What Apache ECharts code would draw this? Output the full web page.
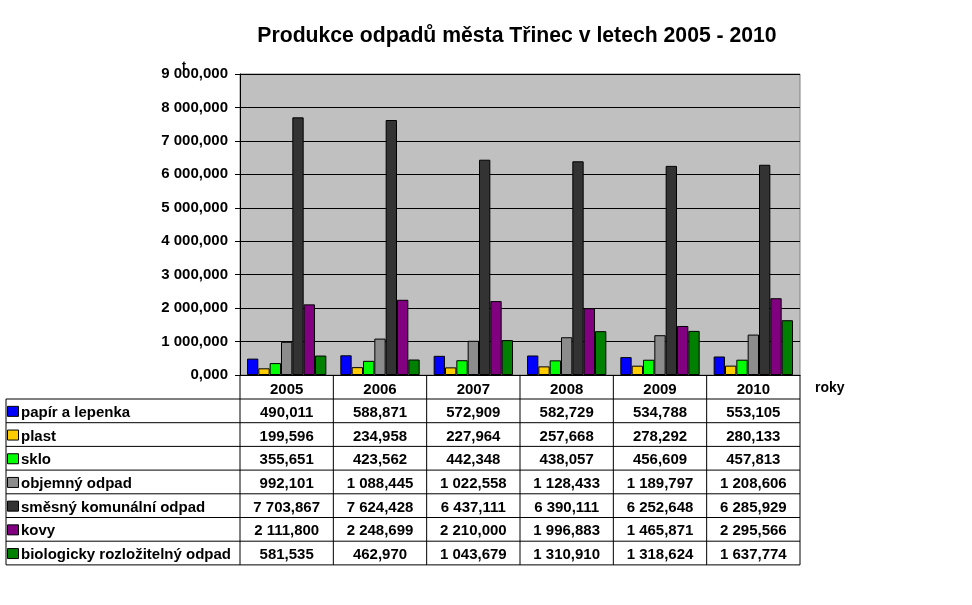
<!DOCTYPE html>
<html>
<head>
<meta charset="utf-8">
<script src="https://cdn.jsdelivr.net/npm/echarts@6/dist/echarts.min.js"></script>
<style>
  html, body { margin: 0; padding: 0; background: #fff; }
  #chart { width: 972px; height: 605px; }
</style>
</head>
<body>
<div id="chart"></div>
<script>
// years (categories)
var years = ['2005', '2006', '2007', '2008', '2009', '2010'];

// series names and values (tonnes)
var names = ['papír a lepenka', 'plast', 'sklo', 'objemný odpad',
             'směsný komunální odpad', 'kovy', 'biologicky rozložitelný odpad'];
var papir   = [490.011, 588.871, 572.909, 582.729, 534.788, 553.105];
var plast   = [199.596, 234.958, 227.964, 257.668, 278.292, 280.133];
var sklo    = [355.651, 423.562, 442.348, 438.057, 456.609, 457.813];
var objemny = [992.101, 1088.445, 1022.558, 1128.433, 1189.797, 1208.606];
var smesny  = [7703.867, 7624.428, 6437.111, 6390.111, 6252.648, 6285.929];
var kovy    = [2111.800, 2248.699, 2210.000, 1996.883, 1465.871, 2295.566];
var bio     = [581.535, 462.970, 1043.679, 1310.910, 1318.624, 1637.774];
var values = [papir, plast, sklo, objemny, smesny, kovy, bio];

var colors = ['#0000ff', '#ffcc00', '#00ff00', '#8c8c8c', '#333333', '#800080', '#008000'];

// czech number format: "7 703,867"
function fmt(v) {
    var s = v.toFixed(3).split('.');
    var int = s[0].replace(/\B(?=(\d{3})+(?!\d))/g, ' ');
    return int + ',' + s[1];
}

var FONT = 'bold 15px "Liberation Sans", Arial, sans-serif';
var gLeft = 240, gRight = 800, gTop = 74, gBottom = 375;
var rowTop = 399, rowH = 23.7, tableLeft = 6;
var colW = (gRight - gLeft) / years.length;

// data table drawn under the plot
var graphic = [];
var tableBottom = rowTop + rowH * names.length;
for (var r = 0; r <= names.length; r++) {
    graphic.push({ type: 'line', shape: { x1: tableLeft, y1: rowTop + r * rowH, x2: gRight, y2: rowTop + r * rowH },
        style: { stroke: '#000', lineWidth: 1 } });
}
graphic.push({ type: 'line', shape: { x1: tableLeft, y1: rowTop, x2: tableLeft, y2: tableBottom },
    style: { stroke: '#000', lineWidth: 1 } });
for (var c = 0; c <= years.length; c++) {
    var xx = gLeft + c * colW;
    graphic.push({ type: 'line', shape: { x1: xx, y1: gBottom, x2: xx, y2: tableBottom },
        style: { stroke: '#000', lineWidth: 1 } });
}
names.forEach(function (n, i) {
    var cy = rowTop + i * rowH + rowH / 2 + 1;
    graphic.push({ type: 'rect', shape: { x: 7.5, y: cy - 5.5, width: 11, height: 10 },
        style: { fill: colors[i], stroke: '#000', lineWidth: 1 } });
    graphic.push({ type: 'text', style: { text: n, x: 21, y: cy + 1, font: FONT, fill: '#000',
        textAlign: 'left', textVerticalAlign: 'middle' } });
    values[i].forEach(function (v, j) {
        graphic.push({ type: 'text', style: { text: fmt(v), x: gLeft + (j + 0.5) * colW, y: cy + 1,
            font: FONT, fill: '#000', textAlign: 'center', textVerticalAlign: 'middle' } });
    });
});
graphic.push({ type: 'text', style: { text: 'roky', x: 815, y: 388, font: 'bold 14px "Liberation Sans", Arial, sans-serif',
    fill: '#000', textAlign: 'left', textVerticalAlign: 'middle' } });
graphic.push({ type: 'text', style: { text: 't', x: 184, y: 67, font: 'bold 12px "Liberation Sans", Arial, sans-serif',
    fill: '#000', textAlign: 'center', textVerticalAlign: 'middle' } });

var dom = document.getElementById('chart');
var myChart = echarts.init(dom);

var option = {
    animation: false,
    backgroundColor: '#fff',
    title: {
        text: 'Produkce odpadů města Třinec v letech 2005 - 2010',
        left: 512, top: 21, textAlign: 'center',
        textStyle: { fontFamily: '"Liberation Sans", Arial', fontWeight: 'bold', fontSize: 21.2, color: '#000' }
    },
    grid: {
        left: gLeft, right: 972 - gRight, top: gTop, bottom: 605 - gBottom,
        show: true, backgroundColor: '#c0c0c0', borderColor: '#808080', borderWidth: 1
    },
    xAxis: {
        type: 'category',
        data: years,
        axisLine: { lineStyle: { color: '#000', width: 1 } },
        axisTick: { show: false },
        axisLabel: { margin: 7, color: '#000', fontFamily: '"Liberation Sans", Arial', fontWeight: 'bold', fontSize: 15 }
    },
    yAxis: {
        type: 'value',
        min: 0, max: 9000, interval: 1000,
        axisLine: { show: true, lineStyle: { color: '#000', width: 1 } },
        axisTick: { show: true, length: 5, lineStyle: { color: '#000' } },
        splitLine: { lineStyle: { color: '#000', width: 1 } },
        axisLabel: {
            margin: 12, color: '#000', fontFamily: '"Liberation Sans", Arial', fontWeight: 'bold', fontSize: 15,
            formatter: fmt
        }
    },
    series: names.map(function (n, i) {
        return {
            name: n, type: 'bar', data: values[i],
            barGap: '0%', barCategoryGap: '15%',
            itemStyle: { color: colors[i], borderColor: '#000', borderWidth: 1 }
        };
    }),
    graphic: graphic
};
myChart.setOption(option, true);
</script>
</body>
</html>
